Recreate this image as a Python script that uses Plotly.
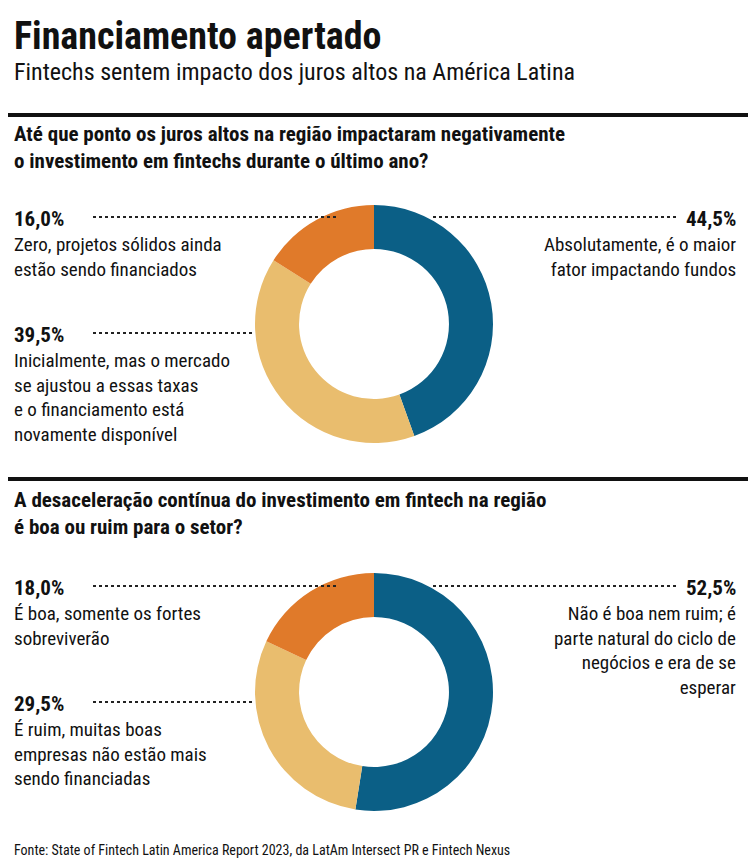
import plotly.graph_objects as go

W, H = 756, 860

colors = ["#0b5f86", "#e9bd6e", "#e07a2a"]

q1_values = [44.5, 39.5, 16.0]
q1_pct = ["44,5%", "39,5%", "16,0%"]
q1_labels = ["Absolutamente, é o maior<br>fator impactando fundos",
             "Inicialmente, mas o mercado<br>se ajustou a essas taxas<br>e o financiamento está<br>novamente disponível",
             "Zero, projetos sólidos ainda<br>estão sendo financiados"]

q2_values = [52.5, 29.5, 18.0]
q2_pct = ["52,5%", "29,5%", "18,0%"]
q2_labels = ["Não é boa nem ruim; é<br>parte natural do ciclo de<br>negócios e era de se<br>esperar",
             "É ruim, muitas boas<br>empresas não estão mais<br>sendo financiadas",
             "É boa, somente os fortes<br>sobreviverão"]

FONT = "Liberation Sans Narrow, Roboto Condensed, Arial Narrow, sans-serif"


def px(x):
    return x / W


def py(y):
    return 1 - y / H


fig = go.Figure()


def add_donut(values, cy):
    fig.add_trace(go.Pie(
        values=values, sort=False, direction="clockwise", rotation=0,
        hole=0.63, marker=dict(colors=colors, line=dict(width=0)),
        textinfo="none", hoverinfo="skip", showlegend=False,
        domain=dict(x=[px(366 - 119), px(366 + 119)], y=[py(cy + 119), py(cy - 119)])))


add_donut(q1_values, 316)
add_donut(q2_values, 684)

ann = []
shapes = []


def txt(x, y, s, size, bold=False, anchor="left", color="#111"):
    ann.append(dict(x=px(x), y=py(y), xref="paper", yref="paper", text=("<b>%s</b>" % s) if bold else s,
                    showarrow=False, xanchor=anchor, yanchor="top", align=anchor,
                    font=dict(family=FONT, size=size, color=color)))


def dots(x0, x1, y):
    shapes.append(dict(type="line", xref="paper", yref="paper", x0=px(x0), x1=px(x1), y0=py(y), y1=py(y),
                       line=dict(color="#222", width=2, dash="dot")))


txt(4, 4, "Financiamento apertado", 38, bold=True)
txt(4, 48, "Fintechs sentem impacto dos juros altos na América Latina", 24)
txt(4, 112, "Até que ponto os juros altos na região impactaram negativamente<br>o investimento em fintechs durante o último ano?", 21, bold=True)
txt(4, 478, "A desaceleração contínua do investimento em fintech na região<br>é boa ou ruim para o setor?", 21, bold=True)
txt(4, 832, "Fonte: State of Fintech Latin America Report 2023, da LatAm Intersect PR e Fintech Nexus", 14)

shapes.append(dict(type="line", xref="paper", yref="paper", x0=0, x1=1, y0=py(107), y1=py(107), line=dict(color="#111", width=4)))
shapes.append(dict(type="line", xref="paper", yref="paper", x0=0, x1=1, y0=py(471), y1=py(471), line=dict(color="#111", width=4)))

RX = 730


def block(pcts, labels, ys):
    # right (blue)
    txt(RX, ys[0] - 12, pcts[0], 21, bold=True, anchor="right")
    txt(RX, ys[0] + 14, labels[0], 19, anchor="right")
    dots(425, 670, ys[0])
    # light (left lower)
    txt(4, ys[1] - 12, pcts[1], 21, bold=True)
    txt(4, ys[1] + 14, labels[1], 19)
    dots(85, 245, ys[1])
    # orange (left upper)
    txt(4, ys[2] - 12, pcts[2], 21, bold=True)
    txt(4, ys[2] + 14, labels[2], 19)
    dots(85, 330, ys[2])


block(q1_pct, q1_labels, [209, 325, 209])
block(q2_pct, q2_labels, [578, 694, 578])

fig.update_layout(width=W, height=H, margin=dict(l=0, r=0, t=0, b=0),
                  paper_bgcolor="white", plot_bgcolor="white",
                  annotations=ann, shapes=shapes)
fig.write_html("out.html")
